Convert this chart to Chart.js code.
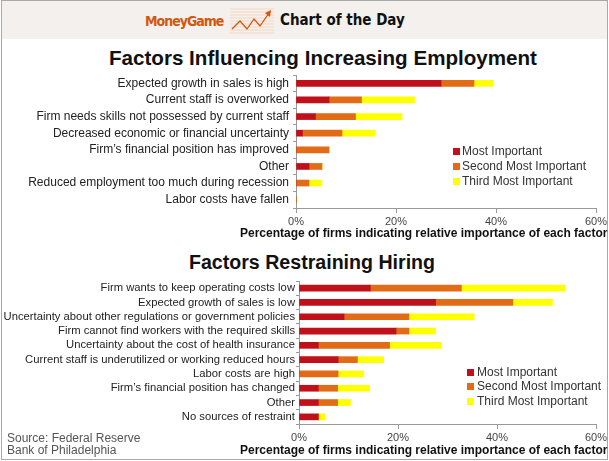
<!DOCTYPE html>
<html><head><meta charset="utf-8">
<script src="https://cdn.jsdelivr.net/npm/chart.js@4.4.0/dist/chart.umd.min.js"></script>
<style>
html,body{margin:0;padding:0;background:#fff;}
body{position:relative;width:609px;height:461px;overflow:hidden;font-family:"Liberation Sans",Arial,Helvetica,sans-serif;}
.abs{position:absolute;white-space:nowrap;}
#frame{left:1px;top:0;width:607px;height:460px;border:1px solid #a8a8a8;box-sizing:border-box;}
#header{left:2px;top:1px;width:605px;height:38px;background:#f3f0ed;}
.hdr{font-family:"Liberation Sans Narrow","DejaVu Sans Condensed",sans-serif;font-weight:bold;font-size:15px;line-height:15px;top:13px;}
.title{font-weight:bold;line-height:20px;color:#111;transform:translateX(-50%);}
.axt{font-weight:bold;font-size:12px;line-height:12px;color:#111;}
#src{left:7px;top:432px;font-size:12px;line-height:12px;color:#555;}
canvas{position:absolute;left:0;}
</style></head><body>
<div id="frame" class="abs"></div>
<div id="header" class="abs"></div>
<div class="abs hdr" style="left:145px;top:14px;color:#d2570f;font-size:14px;letter-spacing:-1px;">MoneyGame</div>
<svg class="abs" style="left:230px;top:7px" width="44" height="27" viewBox="0 0 44 27">
  <g stroke="#f6cfb4" stroke-width="0.8">
    <line x1="0" y1="2" x2="44" y2="2"/><line x1="0" y1="5" x2="44" y2="5"/><line x1="0" y1="8" x2="44" y2="8"/>
    <line x1="0" y1="11" x2="44" y2="11"/><line x1="0" y1="14" x2="44" y2="14"/><line x1="0" y1="17" x2="44" y2="17"/>
    <line x1="0" y1="20" x2="44" y2="20"/><line x1="0" y1="23" x2="44" y2="23"/><line x1="0" y1="26" x2="44" y2="26"/>
  </g>
  <polyline points="2,22 10,14 17,22 24,12 30,19 39,6" fill="none" stroke="#d2570f" stroke-width="1.3"/>
  <polygon points="41,3 35,6 40,10" fill="#d2570f"/>
</svg>
<div class="abs hdr" style="left:280px;color:#111;">Chart of the Day</div>

<div class="abs title" style="left:323px;top:48px;font-size:20.6px;">Factors Influencing Increasing Employment</div>
<div class="abs title" style="left:312px;top:252px;font-size:19.6px;">Factors Restraining Hiring</div>

<canvas id="c1" width="609" height="170" style="top:70px"></canvas>
<canvas id="c2" width="609" height="181" style="top:276px"></canvas>

<div class="abs axt" style="left:240px;top:227px;">Percentage of firms indicating relative importance of each factor</div>
<div class="abs axt" style="left:240px;top:444px;">Percentage of firms indicating relative importance of each factor</div>

<div id="src" class="abs">Source: Federal Reserve<br>Bank of Philadelphia</div>

<script>
// ---- data ----
const seriesNames = ["Most Important", "Second Most Important", "Third Most Important"];
const xTickValues = [0, 20, 40, 60];

const cats1 = ["Expected growth in sales is high", "Current staff is overworked",
  "Firm needs skills not possessed by current staff", "Decreased economic or financial uncertainty",
  "Firm\u2019s financial position has improved", "Other",
  "Reduced employment too much during recession", "Labor costs have fallen"];
const most1   = [29.0, 6.6, 3.9, 1.3, 0, 2.6, 0, 0];
const second1 = [6.6, 6.5, 8.0, 7.9, 6.6, 2.6, 2.6, 0];
const third1  = [3.9, 10.6, 9.3, 6.6, 0, 0, 2.6, 0];

const cats2 = ["Firm wants to keep operating costs low", "Expected growth of sales is low",
  "Uncertainty about other regulations or government policies", "Firm cannot find workers with the required skills",
  "Uncertainty about the cost of health insurance", "Current staff is underutilized or working reduced hours",
  "Labor costs are high", "Firm\u2019s financial position has changed", "Other", "No sources of restraint"];
const most2   = [14.4, 27.6, 9.1, 19.6, 3.9, 7.9, 0, 3.9, 3.9, 3.9];
const second2 = [18.4, 15.6, 13.1, 2.6, 14.4, 3.9, 7.9, 3.9, 3.9, 0];
const third2  = [21.0, 8.0, 13.2, 5.4, 10.5, 5.3, 5.2, 6.5, 2.6, 1.3];

// ---- styles ----
const FONT = '"Liberation Sans", Arial, Helvetica, sans-serif';
const COLORS = ['#c0101a', '#e26b17', '#ffff00'];

const sideLegend = {
  id: 'sideLegend',
  afterDraw(chart, args, opts) {
    const ctx = chart.ctx;
    ctx.save();
    ctx.font = opts.size + 'px ' + FONT;
    ctx.textBaseline = 'middle';
    ctx.textAlign = 'left';
    chart.data.datasets.forEach((ds, i) => {
      const y = opts.y + i * opts.gap;
      ctx.fillStyle = ds.backgroundColor;
      ctx.fillRect(opts.x, Math.round(y - opts.box / 2), opts.box, opts.box);
      ctx.fillStyle = '#333';
      ctx.fillText(ds.label, opts.x + opts.box + opts.space, y + 0.5);
    });
    ctx.restore();
  }
};

function makeChart(id, cats, series, o) {
  return new Chart(document.getElementById(id), {
    type: 'bar',
    data: {
      labels: cats,
      datasets: series.map((d, i) => ({ label: seriesNames[i], data: d, backgroundColor: COLORS[i], borderWidth: 0 }))
    },
    options: {
      indexAxis: 'y', responsive: false, animation: false, devicePixelRatio: 1,
      layout: { padding: { top: o.padTop, right: 13, left: 0, bottom: 0 } },
      datasets: { bar: { barThickness: 6 } },
      scales: {
        x: {
          stacked: true, min: xTickValues[0], max: xTickValues[xTickValues.length - 1],
          afterBuildTicks: s => { s.ticks = xTickValues.map(v => ({ value: v })); },
          ticks: { callback: v => v + '%', font: { size: 11, family: FONT }, color: '#444', padding: 2, maxRotation: 0, autoSkip: false },
          grid: { drawOnChartArea: false, drawTicks: true, tickLength: 5, color: '#999' },
          border: { color: '#999' },
          afterFit: s => { s.height = o.xh; s.paddingLeft = 0; s.paddingRight = 0; }
        },
        y: {
          stacked: true,
          ticks: { font: { size: o.ySize, family: FONT }, color: '#222', padding: o.yPad, autoSkip: false },
          grid: { drawOnChartArea: false, drawTicks: true, tickLength: 3, color: '#999' },
          border: { color: '#999' },
          afterFit: s => { s.width = o.yw; s.paddingTop = 0; s.paddingBottom = 0; }
        }
      },
      plugins: { legend: { display: false }, tooltip: { enabled: false }, title: { display: false },
        sideLegend: o.legend }
    },
    plugins: [sideLegend]
  });
}

makeChart('c1', cats1, [most1, second1, third1],
  { padTop: 5, xh: 32, yw: 296, ySize: 12, yPad: 4,
    legend: { x: 453, y: 81, gap: 15, box: 7, space: 2, size: 12 } });
makeChart('c2', cats2, [most2, second2, third2],
  { padTop: 5, xh: 33, yw: 299, ySize: 11.25, yPad: 1,
    legend: { x: 467, y: 96, gap: 14.6, box: 7, space: 3, size: 12 } });
</script>
</body></html>
